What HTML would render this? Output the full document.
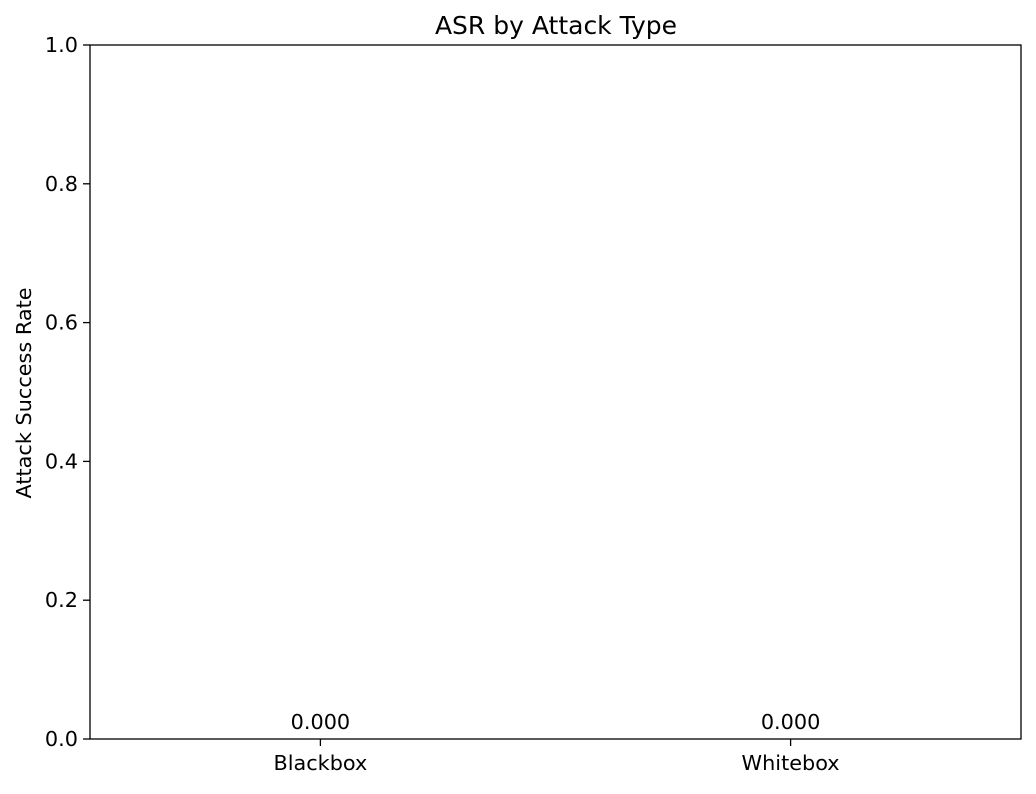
<!DOCTYPE html>
<html><head><meta charset="utf-8"><style>
body{margin:0;background:#fff;}
svg text{font-family:"DejaVu Sans","Liberation Sans",sans-serif;fill:#000;}
</style></head><body>
<svg id="chart" width="1036" height="789" xmlns="http://www.w3.org/2000/svg">
<rect width="1036" height="789" fill="#fff"/>
<text x="556" y="34" font-size="25" text-anchor="middle">ASR by Attack Type</text>
<text transform="translate(31,393) rotate(-90)" font-size="20.8" text-anchor="middle">Attack Success Rate</text>
<g id="plot"></g>
<rect x="90" y="45" width="931" height="694" fill="none" stroke="#000" stroke-width="1.3"/>
</svg>
<script>
const categories = ["Blackbox", "Whitebox"];
const values = [0.0, 0.0];
const yTicks = [0, 0.2, 0.4, 0.6, 0.8, 1.0];
const yTickLabels = ["0.0", "0.2", "0.4", "0.6", "0.8", "1.0"];

const L=90,R=1021,T=45,B=739;
const xMin=-0.49,xMax=1.49;
const x=v=>L+(v-xMin)/(xMax-xMin)*(R-L);
const y=v=>B-(v-0)/(1-0)*(B-T);
const g=document.getElementById('plot');
const NS="http://www.w3.org/2000/svg";
function mk(tag,attrs){const e=document.createElementNS(NS,tag);for(const k in attrs)e.setAttribute(k,attrs[k]);g.appendChild(e);return e;}
yTicks.forEach((t,i)=>{
  const ln=mk('line',{x1:L-7,x2:L,y1:y(t),y2:y(t),stroke:'#000','stroke-width':1.3});
  
  
  const tx=mk('text',{x:L-12,y:y(t)+7,'font-size':20.8,'text-anchor':'end'});
  tx.textContent=yTickLabels[i];
  
  
});
categories.forEach((c,i)=>{
  const cx=x(i);
  const bw=x(0.4)-x(-0.4);
  const bar=mk('rect',{x:cx-bw/2,y:y(values[i]),width:bw,height:y(0)-y(values[i]),fill:'#1f77b4'});
  
  
  const tk=mk('line',{x1:cx,x2:cx,y1:B,y2:B+7,stroke:'#000','stroke-width':1.3});
  
  
  const lb=mk('text',{x:cx,y:B+31,'font-size':20.8,'text-anchor':'middle'});
  lb.textContent=c;
  
  
  const vl=mk('text',{x:cx,y:y(values[i])-10,'font-size':20.8,'text-anchor':'middle'});
  vl.textContent=values[i].toFixed(3);
  
  
});
</script>
</body></html>
